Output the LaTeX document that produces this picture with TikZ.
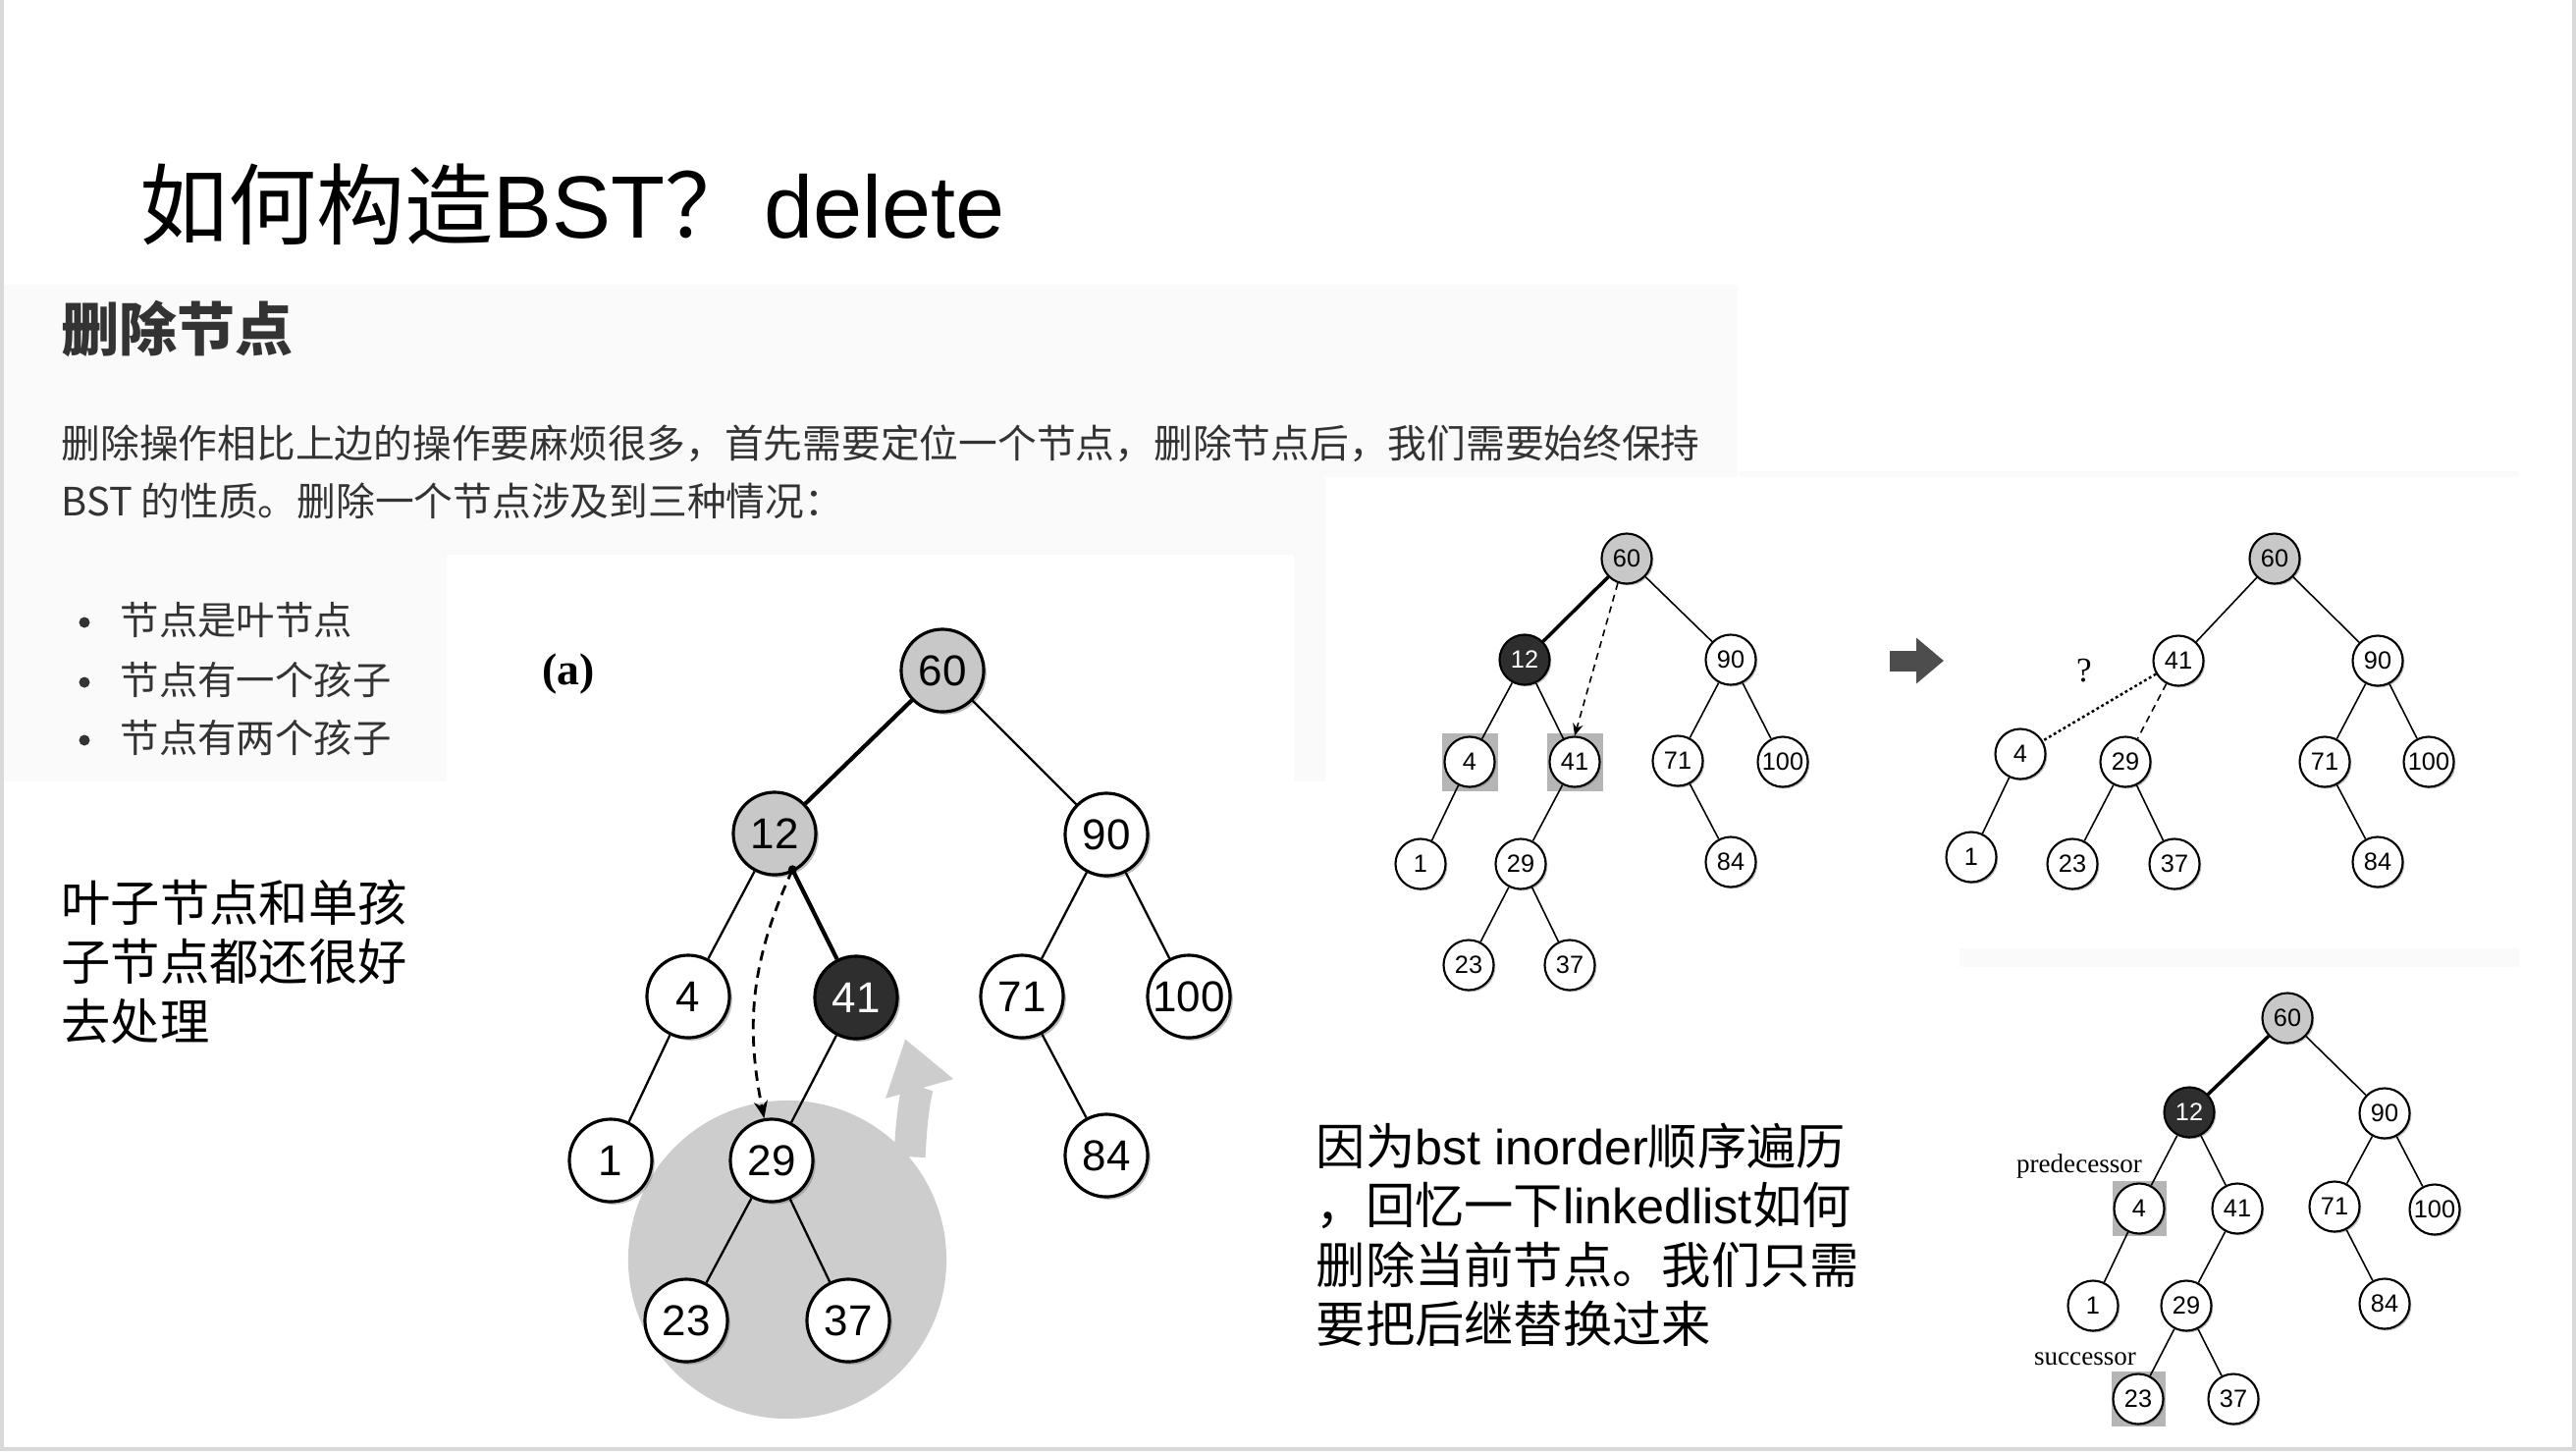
\documentclass[tikz,border=0pt]{standalone}
\usepackage{fontspec}
\setmainfont{Liberation Sans}
\newfontfamily\cjk{Noto Sans CJK SC}
\newfontfamily\serif{Liberation Serif}
\usepackage{tikz}
\usetikzlibrary{arrows,arrows.meta,positioning,calc,shadows}
\definecolor{nodegray}{HTML}{C8C8C8}
\definecolor{nodeblack}{HTML}{2E2E2E}
\definecolor{panelgray}{HTML}{FAFAFA}
\definecolor{boxgray}{HTML}{B5B5B5}
\definecolor{blobgray}{HTML}{CDCDCD}
\definecolor{arrowgray}{HTML}{4D4D4D}
\definecolor{textgray}{HTML}{333333}
\definecolor{framegray}{HTML}{D9D9D9}

\begin{document}
\begin{tikzpicture}[x=0.01cm, y=-0.01cm, >=stealth']
\tikzstyle{bignode}=[circle, draw=black, line width=0.9pt, fill=white, minimum size=0.84cm, inner sep=0pt, font=\fontsize{12.5}{14}\selectfont, drop shadow={shadow xshift=0.8pt, shadow yshift=-0.8pt, opacity=0.5}]
\tikzstyle{smallnode}=[circle, draw=black, line width=0.6pt, fill=white, minimum size=0.51cm, inner sep=0pt, font=\fontsize{7.2}{8}\selectfont, drop shadow={shadow xshift=0.5pt, shadow yshift=-0.5pt, opacity=0.5}]
\tikzstyle{grayfill}=[fill=nodegray]
\tikzstyle{darkfill}=[fill=nodeblack, text=white]
\tikzstyle{hlbox}=[rectangle, fill=boxgray, minimum width=0.57cm, minimum height=0.59cm, inner sep=0pt]
\tikzstyle{bigedge}=[line width=0.65pt]
\tikzstyle{smalledge}=[line width=0.45pt]
\tikzstyle{line}=[anchor=base west, inner sep=0pt]
\useasboundingbox (0,0) rectangle (2624,1478);

% backgrounds
\fill[panelgray] (2,290) rectangle (1770,796);
\fill[white] (455,565) rectangle (1318,796);
\fill[white] (1350,486) rectangle (1770,796);
\fill[panelgray] (1772,480) rectangle (2566,486);
\fill[panelgray] (1996,966) rectangle (2566,985);
\draw[framegray, line width=0.04cm] (2,0) -- (2,1476) -- (2622,1476) -- (2622,0);

% texts
\node[line, font=\fontsize{25.6}{30}\selectfont] (title) at (142,242) {{\cjk 如何构造}BST{\cjk ？}\hspace{0.12em}delete};
\node[line, text=textgray, font=\fontsize{16.8}{20}\cjk\bfseries] (heading) at (62,357) {删除节点};
\node[line, text=textgray, font=\fontsize{11.3}{14}\cjk] (para1) at (62,466) {删除操作相比上边的操作要麻烦很多，首先需要定位一个节点，删除节点后，我们需要始终保持};
\node[line, text=textgray, font=\fontsize{11.3}{14}\cjk] (para2) at (62,525) {BST 的性质。删除一个节点涉及到三种情况：};
\foreach \y/\txt [count=\i] in {646/节点是叶节点, 707/节点有一个孩子, 766/节点有两个孩子}{
  \fill[textgray] (86,\y-12) circle (0.055cm);
  \node[line, text=textgray, font=\fontsize{11.2}{14}\cjk] (case\i) at (122,\y) {\txt};
}
\node[line, font=\fontsize{14.3}{17}\cjk] (easy1) at (62,938) {叶子节点和单孩};
\node[line, font=\fontsize{14.3}{17}\cjk] (easy2) at (62,998) {子节点都还很好};
\node[line, font=\fontsize{14.3}{17}\cjk] (easy3) at (62,1059) {去处理};
\node[line, font=\fontsize{14.3}{17}\selectfont] (note1) at (1340,1186) {{\cjk 因为}bst inorder{\cjk 顺序遍历}};
\node[line, font=\fontsize{14.3}{17}\selectfont] (note2) at (1340,1246) {{\cjk ，回忆一下}linkedlist{\cjk 如何}};
\node[line, font=\fontsize{14.3}{17}\cjk] (note3) at (1340,1307) {删除当前节点。我们只需};
\node[line, font=\fontsize{14.3}{17}\cjk] (note4) at (1340,1367) {要把后继替换过来};

% tree (a)
\node[font=\fontsize{13}{15}\serif\bfseries] (alabel) at (579,686) {(a)};
\node[circle, fill=blobgray, minimum size=3.24cm] (blob) at (802,1283) {};
\node[bignode,grayfill] (a60) at (960,683) {60};
\node[bignode,grayfill] (a12) at (789,849) {12};
\node[bignode] (a90) at (1127,850) {90};
\node[bignode] (a4) at (701,1015) {4};
\node[bignode,darkfill] (a41) at (872,1016) {41};
\node[bignode] (a71) at (1041,1015) {71};
\node[bignode] (a100) at (1211,1015) {100};
\node[bignode] (a1) at (622,1182) {1};
\node[bignode] (a29) at (786,1182) {29};
\node[bignode] (a84) at (1127,1177) {84};
\node[bignode] (a23) at (699,1345) {23};
\node[bignode] (a37) at (864,1345) {37};
\path[bigedge]
(a60) edge[line width=1.2pt] (a12)
      edge (a90)
(a12) edge (a4)
      edge[line width=1.2pt] (a41)
(a4)  edge (a1)
(a41) edge (a29)
(a29) edge (a23)
      edge (a37)
(a90) edge (a71)
      edge (a100)
(a71) edge (a84);
\coordinate (a12dot) at ($(a12)!0.22!(a41)$);
\fill (a12dot) circle (0.045cm);
\draw[line width=0.8pt, dash pattern=on 3pt off 2pt, -{Stealth[length=5pt,width=4pt]}] (a12dot) to[bend right=18] (a29.100);
\coordinate (lifttip) at (922,1058);
\draw[blobgray, line width=0.32cm, -{Triangle[width=0.68cm,length=0.53cm]}] (blob.40) to[out=88,in=-74] (lifttip);

% tree (b)
\node[smallnode,grayfill] (b60) at (1657,569) {60};
\node[smallnode,darkfill] (b12) at (1553,672) {12};
\node[smallnode] (b90) at (1763,672) {90};
\node[hlbox] (b4hl) at (1497,776) {};
\node[smallnode] (b4) at (b4hl) {4};
\node[hlbox] (b41hl) at (1604,776) {};
\node[smallnode] (b41) at (b41hl) {41};
\node[smallnode] (b71) at (1709,775) {71};
\node[smallnode] (b100) at (1816,776) {100};
\node[smallnode] (b1) at (1447,880) {1};
\node[smallnode] (b29) at (1549,880) {29};
\node[smallnode] (b84) at (1763,878) {84};
\node[smallnode] (b23) at (1496,983) {23};
\node[smallnode] (b37) at (1599,983) {37};
\path[smalledge]
(b60) edge[line width=1pt] (b12)
      edge (b90)
(b12) edge (b4)
      edge (b41)
(b4)  edge (b1)
(b41) edge (b29)
(b29) edge (b23)
      edge (b37)
(b90) edge (b71)
      edge (b100)
(b71) edge (b84);
\draw[smalledge, dash pattern=on 2pt off 1.5pt, -{Stealth[length=3.5pt,width=3pt]}] (b60.250) -- (b41.north);

% step arrow
\coordinate (stepfrom) at (1925,673);
\coordinate (stepto) at (1980,673);
\draw[arrowgray, line width=0.21cm, -{Triangle[width=0.45cm,length=0.28cm]}] (stepfrom) -- (stepto);

% tree (c)
\node[smallnode,grayfill] (c60) at (2317,569) {60};
\node[smallnode] (c41) at (2219,673) {41};
\node[smallnode] (c90) at (2422,673) {90};
\node[smallnode] (c4) at (2058,768) {4};
\node[smallnode] (c29) at (2165,776) {29};
\node[smallnode] (c71) at (2368,776) {71};
\node[smallnode] (c100) at (2474,776) {100};
\node[smallnode] (c1) at (2008,873) {1};
\node[smallnode] (c23) at (2111,880) {23};
\node[smallnode] (c37) at (2215,880) {37};
\node[smallnode] (c84) at (2422,878) {84};
\node[anchor=base, font=\fontsize{10}{12}\serif] (cq) at (2123,694) {?};
\path[smalledge]
(c60) edge (c41)
      edge (c90)
(c41) edge[line width=0.7pt, dash pattern=on 0.8pt off 0.8pt] (c4)
      edge[dash pattern=on 2pt off 1.5pt] (c29)
(c4)  edge (c1)
(c29) edge (c23)
      edge (c37)
(c90) edge (c71)
      edge (c100)
(c71) edge (c84);

% tree (d)
\node[smallnode,grayfill] (d60) at (2330,1037) {60};
\node[smallnode,darkfill] (d12) at (2230,1133) {12};
\node[smallnode] (d90) at (2429,1134) {90};
\node[hlbox, minimum width=0.55cm, minimum height=0.56cm] (d4hl) at (2179,1231) {};
\node[smallnode] (d4) at (d4hl) {4};
\node[smallnode] (d41) at (2279,1231) {41};
\node[smallnode] (d71) at (2378,1229) {71};
\node[smallnode] (d100) at (2480,1232) {100};
\node[smallnode] (d1) at (2132,1330) {1};
\node[smallnode] (d29) at (2227,1330) {29};
\node[smallnode] (d84) at (2429,1328) {84};
\node[hlbox, minimum width=0.55cm, minimum height=0.56cm] (d23hl) at (2178,1425) {};
\node[smallnode] (d23) at (d23hl) {23};
\node[smallnode] (d37) at (2275,1425) {37};
\path[smalledge]
(d60) edge[line width=1pt] (d12)
      edge (d90)
(d12) edge (d4)
      edge (d41)
(d4)  edge (d1)
(d41) edge (d29)
(d29) edge (d23)
      edge (d37)
(d90) edge (d71)
      edge (d100)
(d71) edge (d84);
\node[anchor=base, font=\fontsize{7.7}{9}\serif] (pred) at (2118,1194) {predecessor};
\node[anchor=base, font=\fontsize{7.7}{9}\serif] (succ) at (2124,1390) {successor};
\end{tikzpicture}
\end{document}
